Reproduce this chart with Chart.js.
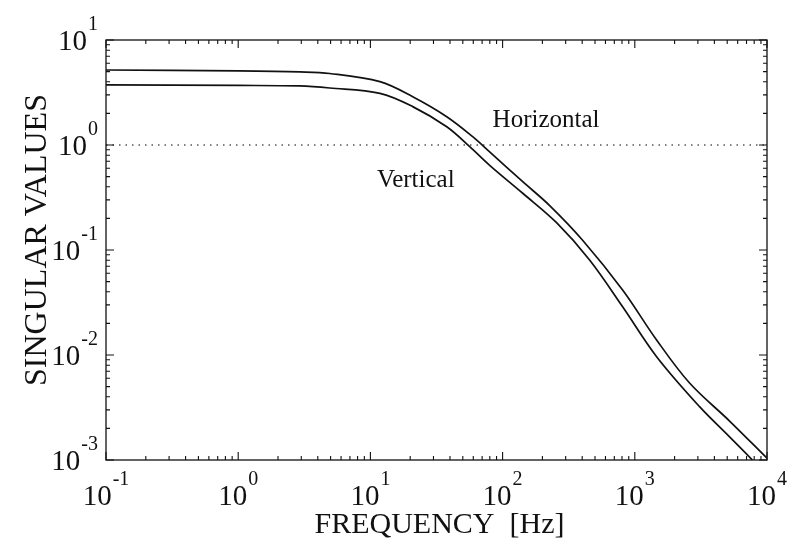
<!DOCTYPE html>
<html>
<head>
<meta charset="utf-8">
<script src="https://cdn.jsdelivr.net/npm/chart.js@4.4.0/dist/chart.umd.min.js"></script>
<style>
  body { margin: 0; background: #fff; }
  #wrap { width: 788px; height: 542px; position: relative; }
</style>
</head>
<body>
<div id="wrap"><canvas id="svChart"></canvas></div>
<script>
// frequencies [Hz] and singular values
const freqH = [0.1, 1, 2.92, 4.93, 11.8, 20.9, 37.8, 59.4, 79.8, 142, 227, 403, 809, 1462, 2596, 5212, 10000];
const horizontal = [5.18, 5.07, 4.96, 4.80, 4.01, 2.88, 1.86, 1.20, 0.86, 0.447, 0.265, 0.124, 0.0416, 0.0139, 0.00541, 0.00235, 0.00104];

const freqV = [0.1, 1, 2.92, 4.93, 11.8, 20.9, 37.8, 56.4, 79.8, 142, 256, 455, 809, 1462, 3090, 5212, 7760];
const vertical = [3.73, 3.69, 3.65, 3.49, 3.10, 2.32, 1.49, 0.964, 0.64, 0.347, 0.182, 0.0803, 0.0288, 0.00964, 0.00322, 0.00166, 0.001];

const refFreq = [0.1, 10000];
const refLevel = [1, 1];

const xTickExps = [-1, 0, 1, 2, 3, 4];
const yTickExps = [-3, -2, -1, 0, 1];

const curveLabels = ["Horizontal", "Vertical"];
const labelAt = [[84, 1.48], [11.2, 0.398]];

const toPts = (xs, ys) => xs.map((x, i) => ({ x: x, y: ys[i] }));

const SERIF = '"Liberation Serif", "DejaVu Serif", serif';

function drawPow(ctx, exp, x, y, mode) {
  ctx.font = '29px ' + SERIF;
  const wb = ctx.measureText('10').width;
  ctx.font = '20px ' + SERIF;
  const we = ctx.measureText(String(exp)).width;
  let left, base;
  if (mode === 'x') {
    left = x - (wb + we + 1) / 2;
    base = y;
  } else {
    left = x - (wb + we + 1);
    base = y + 10;
  }
  ctx.textAlign = 'left';
  ctx.textBaseline = 'alphabetic';
  ctx.font = '29px ' + SERIF;
  ctx.fillText('10', left, base);
  ctx.font = '20px ' + SERIF;
  ctx.fillText(String(exp), left + wb + 1, base - 20);
}

const framePlugin = {
  id: 'frame',
  afterDraw(chart) {
    const ctx = chart.ctx;
    const a = chart.chartArea;
    const xs = chart.scales.x, ys = chart.scales.y;
    ctx.save();
    ctx.strokeStyle = '#111';
    ctx.fillStyle = '#111';
    ctx.lineWidth = 1.3;
    ctx.strokeRect(a.left, a.top, a.right - a.left, a.bottom - a.top);

    ctx.lineWidth = 1.1;
    ctx.beginPath();
    // x ticks, inward on bottom and top
    for (let i = 0; i < xTickExps.length; i++) {
      const e = xTickExps[i];
      const px = xs.getPixelForValue(Math.pow(10, e));
      ctx.moveTo(px, a.bottom); ctx.lineTo(px, a.bottom - 8);
      ctx.moveTo(px, a.top); ctx.lineTo(px, a.top + 8);
      if (i < xTickExps.length - 1) {
        for (let m = 2; m <= 9; m++) {
          const q = xs.getPixelForValue(m * Math.pow(10, e));
          ctx.moveTo(q, a.bottom); ctx.lineTo(q, a.bottom - 4);
          ctx.moveTo(q, a.top); ctx.lineTo(q, a.top + 4);
        }
      }
    }
    // y ticks, inward on left and right
    for (let i = 0; i < yTickExps.length; i++) {
      const e = yTickExps[i];
      const py = ys.getPixelForValue(Math.pow(10, e));
      ctx.moveTo(a.left, py); ctx.lineTo(a.left + 8, py);
      ctx.moveTo(a.right, py); ctx.lineTo(a.right - 8, py);
      if (i < yTickExps.length - 1) {
        for (let m = 2; m <= 9; m++) {
          const q = ys.getPixelForValue(m * Math.pow(10, e));
          ctx.moveTo(a.left, q); ctx.lineTo(a.left + 4, q);
          ctx.moveTo(a.right, q); ctx.lineTo(a.right - 4, q);
        }
      }
    }
    ctx.stroke();

    // tick labels
    xTickExps.forEach(e => drawPow(ctx, e, xs.getPixelForValue(Math.pow(10, e)), a.bottom + 45, 'x'));
    yTickExps.forEach(e => drawPow(ctx, e, a.left - 8, ys.getPixelForValue(Math.pow(10, e)), 'y'));

    // axis titles
    ctx.textAlign = 'center';
    ctx.textBaseline = 'alphabetic';
    ctx.font = '30px ' + SERIF;
    ctx.fillText('FREQUENCY  [Hz]', (a.left + a.right) / 2 + 3, 533);
    ctx.save();
    ctx.font = '32px ' + SERIF;
    ctx.translate(46, (a.top + a.bottom) / 2 - 10);
    ctx.rotate(-Math.PI / 2);
    ctx.fillText('SINGULAR VALUES', 0, 0);
    ctx.restore();

    // curve labels
    ctx.font = '25px ' + SERIF;
    ctx.textAlign = 'left';
    curveLabels.forEach((t, i) => {
      ctx.fillText(t, xs.getPixelForValue(labelAt[i][0]), ys.getPixelForValue(labelAt[i][1]));
    });
    ctx.restore();
  }
};

new Chart(document.getElementById('svChart').getContext('2d'), {
  type: 'line',
  data: {
    datasets: [
      {
        label: 'Horizontal',
        data: toPts(freqH, horizontal),
        borderColor: '#111',
        borderWidth: 1.7,
        pointRadius: 0,
        tension: 0.35
      },
      {
        label: 'Vertical',
        data: toPts(freqV, vertical),
        borderColor: '#111',
        borderWidth: 1.7,
        pointRadius: 0,
        tension: 0.35
      },
      {
        label: 'ref',
        data: toPts(refFreq, refLevel),
        borderColor: '#555',
        borderWidth: 1.3,
        borderDash: [1.5, 5],
        pointRadius: 0
      }
    ]
  },
  options: {
    responsive: true,
    maintainAspectRatio: false,
    animation: false,
    layout: { padding: { left: 98, right: 21, top: 40, bottom: 74 } },
    plugins: { legend: { display: false }, tooltip: { enabled: false } },
    scales: {
      x: {
        type: 'logarithmic', min: 0.1, max: 10000,
        grid: { display: false }, border: { display: false },
        ticks: { display: false }
      },
      y: {
        type: 'logarithmic', min: 0.001, max: 10,
        grid: { display: false }, border: { display: false },
        ticks: { display: false }
      }
    }
  },
  plugins: [framePlugin]
});
</script>
</body>
</html>
